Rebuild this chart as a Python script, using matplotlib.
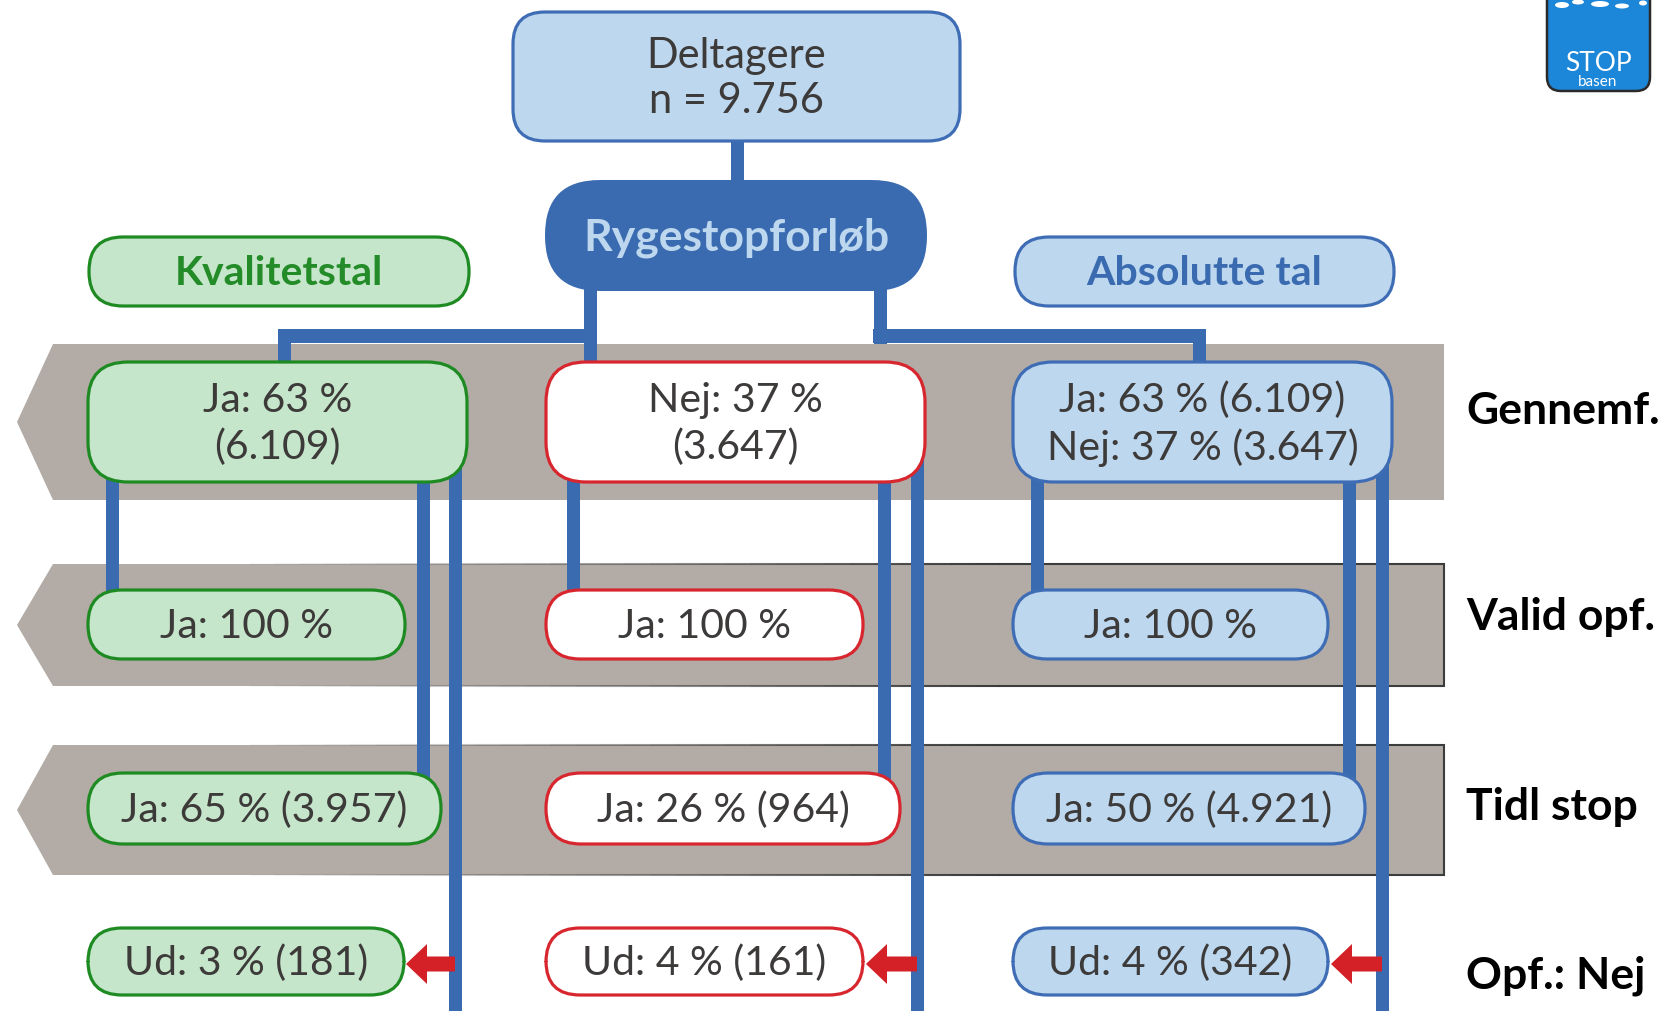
import matplotlib
matplotlib.use("Agg")
import matplotlib.pyplot as plt
import numpy as np
from matplotlib.patches import FancyBboxPatch, Rectangle, Polygon, Ellipse

# ---------------- data (texts) ----------------
total_text = "Deltagere\nn = 9.756"
center_title = "Rygestopforløb"
header_labels = ["Kvalitetstal", "Absolutte tal"]
row_labels = ["Gennemf.", "Valid opf.", "Tidl stop", "Opf.: Nej"]
kval_texts = ["Ja: 63 %\n(6.109)", "Ja: 100 %", "Ja: 65 % (3.957)", "Ud: 3 % (181)"]
nej_texts = ["Nej: 37 %\n(3.647)", "Ja: 100 %", "Ja: 26 % (964)", "Ud: 4 % (161)"]
abs_texts = ["Ja: 63 % (6.109)\nNej: 37 % (3.647)", "Ja: 100 %", "Ja: 50 % (4.921)", "Ud: 4 % (342)"]

# ---------------- style ----------------
FONT = "Lato"
TXT = "#3d3a3a"
BLUE_LINE = "#3A6BB0"
BLUE_EDGE = "#3F6DB5"
BLUE_FILL = "#BDD7EE"
GREEN_FILL = "#C6E6CB"
GREEN_EDGE = "#1E8A22"
GREEN_TXT = "#238B27"
RED_EDGE = "#D7262E"
RED_ARROW = "#D42027"
BAND = "#B3ACA6"

W, H = 1663, 1012
fig = plt.figure(figsize=(W / 100, H / 100), dpi=100)
ax = fig.add_axes([0, 0, 1, 1])
ax.set_xlim(0, W)
ax.set_ylim(H, 0)
ax.axis("off")


def box(x0, y0, x1, y1, r, fc, ec, lw=2.3, text=None, color=TXT, size=29.5,
        weight="normal", ls=1.3, z=5):
    p = FancyBboxPatch((x0, y0), x1 - x0, y1 - y0,
                       boxstyle=f"round,pad=0,rounding_size={r}",
                       fc=fc, ec=ec, lw=lw, zorder=z)
    ax.add_patch(p)
    if text is not None:
        ax.text((x0 + x1) / 2, (y0 + y1) / 2 + 1, text, ha="center", va="center",
                fontsize=size, color=color, family=FONT, weight=weight,
                linespacing=ls, zorder=z + 1)


def vline(xc, y0, y1, w=13):
    ax.add_patch(Rectangle((xc - w / 2, y0), w, y1 - y0, fc=BLUE_LINE, ec="none", zorder=3))


def hline(x0, x1, yc, w=14):
    ax.add_patch(Rectangle((x0, yc - w / 2), x1 - x0, w, fc=BLUE_LINE, ec="none", zorder=3))


def arrow(x_line, x_tip, yc):
    hl, hh, sh = 21, 20, 7.5
    pts = [(x_tip, yc), (x_tip + hl, yc - hh), (x_tip + hl, yc - sh),
           (x_line, yc - sh), (x_line, yc + sh), (x_tip + hl, yc + sh),
           (x_tip + hl, yc + hh)]
    ax.add_patch(Polygon(pts, closed=True, fc=RED_ARROW, ec="none", zorder=7))


# ---------------- bands ----------------
bands = [(345, 501, False), (565, 687, True), (746, 876, True)]
for y0, y1, outl in bands:
    ym = (y0 + y1) / 2
    ax.add_patch(Polygon([(53, y0), (1444, y0), (1444, y1), (53, y1), (17, ym)],
                         closed=True, fc=BAND, ec="none", zorder=1))
    if outl:
        # outline fading in from the left
        xs = np.linspace(250, 1000, 31)
        for i in range(len(xs) - 1):
            a = (i + 1) / (len(xs) - 1)
            for yy in (y0, y1):
                ax.plot([xs[i], xs[i + 1]], [yy, yy], color="#3c3c3c", alpha=a,
                        lw=1.5, zorder=2, solid_capstyle="butt")
        ax.plot([1000, 1444, 1444, 1000], [y0, y0, y1, y1], color="#3c3c3c",
                lw=1.5, zorder=2, solid_joinstyle="miter")

# ---------------- connectors ----------------
vline(737, 140, 182)                 # Deltagere -> Rygestopforløb
vline(590, 285, 368)                 # to Nej
vline(880, 285, 345)
hline(278, 596, 337)                 # left branch
vline(284, 330, 368)
hline(873, 1205, 337)                # right branch
vline(1199, 330, 368)

# column 1 (Kvalitetstal)
vline(112, 420, 595)
vline(423, 420, 780)
vline(455, 420, H + 5)
# column 2 (Nej)
vline(573, 420, 595)
vline(884, 420, 780)
vline(917, 420, H + 5)
# column 3 (Absolutte)
vline(1037, 420, 595)
vline(1349, 420, 780)
vline(1382, 420, H + 5)

# ---------------- top boxes ----------------
box(513, 13, 960, 142, 32, BLUE_FILL, BLUE_EDGE, text=total_text, size=30, ls=1.25)
box(545, 181, 927, 292, 55, BLUE_LINE, BLUE_LINE, lw=0, text=center_title,
    color=BLUE_FILL, size=32, weight="bold")
box(89, 238, 469, 307, 34, GREEN_FILL, GREEN_EDGE, text=header_labels[0],
    color=GREEN_TXT, size=29.5, weight="bold")
box(1015, 238, 1394, 307, 34, BLUE_FILL, BLUE_EDGE, text=header_labels[1],
    color=BLUE_LINE, size=29.5, weight="bold")

# ---------------- column boxes ----------------
rows_y = [(363, 483, 40), (591, 660, 34), (774, 845, 35), (929, 996, 34)]
col_specs = [
    (kval_texts, 88, [467, 405, 441, 404], GREEN_FILL, GREEN_EDGE),
    (nej_texts, 546, [925, 863, 900, 863], "white", RED_EDGE),
    (abs_texts, 1013, [1392, 1328, 1365, 1328], BLUE_FILL, BLUE_EDGE),
]
for texts, x0, x1s, fc, ec in col_specs:
    for (y0, y1, r), x1, t in zip(rows_y, x1s, texts):
        box(x0, y0, x1, y1, r, fc, ec, text=t)

# red arrows (opf.: nej)
yc_arrow = 965
for x_line, x_tip in [(455, 406), (917, 866), (1382, 1331)]:
    arrow(x_line, x_tip, yc_arrow)

# ---------------- row labels ----------------
for lab, yc in zip(row_labels, [411, 617, 807, 976]):
    ax.text(1466, yc, lab, ha="left", va="center", fontsize=32, weight="bold",
            family=FONT, color="black", zorder=6)

# ---------------- logo ----------------
ax.add_patch(FancyBboxPatch((1547, -30), 103, 122,
                            boxstyle="round,pad=0,rounding_size=14",
                            fc="#1C87D8", ec="#2a2a2a", lw=1.8, zorder=5))
for (cx, cy, ew, eh) in [(1562, 6, 14, 6), (1578, 3, 12, 5), (1600, 5, 18, 6),
                         (1622, 7, 14, 5), (1643, 4, 8, 5)]:
    ax.add_patch(Ellipse((cx, cy), ew, eh, fc="white", ec="none", zorder=6))
ax.text(1598, 71, "STOP", ha="center", va="baseline", fontsize=19, color="white",
        family=FONT, zorder=6)
ax.text(1598, 86, "basen", ha="center", va="baseline", fontsize=11, color="white",
        family=FONT, zorder=6)

fig.savefig("out.png", dpi=100)
